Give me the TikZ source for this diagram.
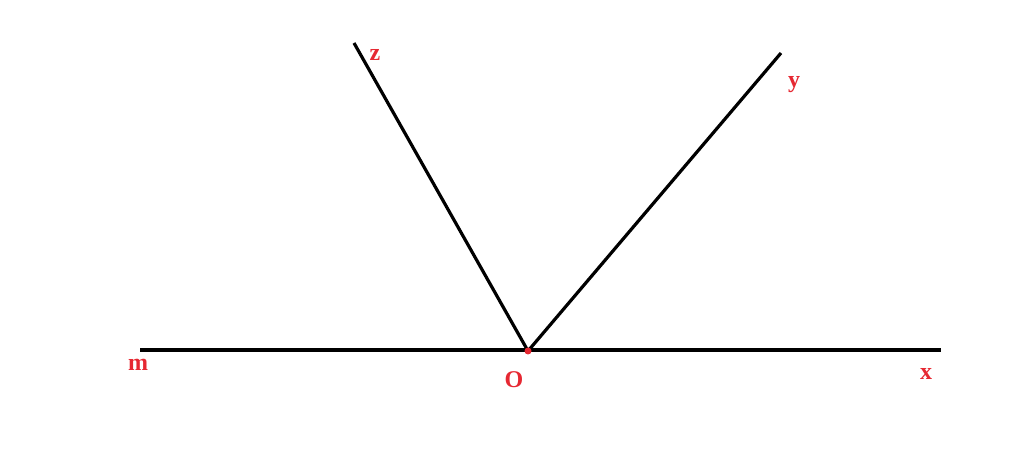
\documentclass[tikz,border=0pt]{standalone}
\usepackage{fontspec}
\setmainfont{Liberation Serif}
\definecolor{lblred}{RGB}{230,40,50}

\begin{document}
\begin{tikzpicture}[x=0.75pt,y=-0.75pt,
    lbl/.style={text=lblred,font=\fontsize{18}{20}\selectfont\bfseries,inner sep=0pt}]
    \useasboundingbox (0,0) rectangle (1024,473);
    \draw (528,351) coordinate (O) node[lbl] at (514,380) (lO) {O} ;
    \draw (140,350) coordinate (M) node[lbl] at (138,365) (lm) {m} ;
    \draw (941,350) coordinate (X) node[lbl] at (926,374) (lx) {x} ;
    \draw (354,43) coordinate (Z) node[lbl] at (375,55) (lz) {z} ;
    \draw (781,53) coordinate (Y) node[lbl] at (794,85) (ly) {y} ;
    \draw[line width=2.6pt] (M) -- (X);
    \draw[line width=2.4pt] (Z) -- (O) -- (Y);
    \fill[lblred] (O) circle(3.5);
\end{tikzpicture}
\end{document}
